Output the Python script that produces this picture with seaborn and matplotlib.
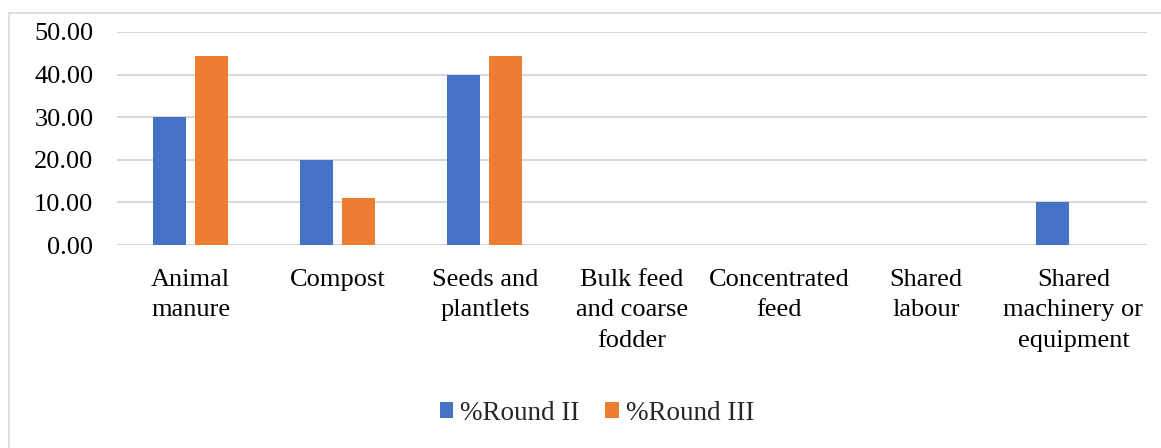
import pandas as pd
import matplotlib
matplotlib.use('Agg')
import matplotlib.pyplot as plt
import seaborn as sns
from matplotlib.patches import Rectangle

# Dados
categorias = ['Animal\nmanure', 'Compost', 'Seeds and\nplantlets', 'Bulk feed\nand coarse\nfodder',
              'Concentrated\nfeed', 'Shared\nlabour', 'Shared\nmachinery or\nequipment']
round_ii = [30.0, 20.0, 40.0, 0.0, 0.0, 0.0, 10.0]
round_iii = [44.44, 11.11, 44.44, 0.0, 0.0, 0.0, 0.0]
series = ['%Round II', '%Round III']
cores = ['#4472C4', '#ED7D31']

df = pd.DataFrame({
    'Categoria': categorias * 2,
    'Valor': round_ii + round_iii,
    'Serie': [series[0]] * len(categorias) + [series[1]] * len(categorias),
})

sns.set_style('white')
plt.rcParams['font.family'] = ['Liberation Serif', 'DejaVu Serif']

fig = plt.figure(figsize=(11.61, 4.48), dpi=100)
ax = fig.add_axes([117 / 1161, 1 - 245 / 448, (1147 - 117) / 1161, (245 - 32) / 448])

sns.barplot(data=df, x='Categoria', y='Valor', hue='Serie', palette=cores,
            width=0.57, gap=0.21, ax=ax, saturation=1, zorder=3, linewidth=0)

ax.set_ylim(0, 50)
ax.set_yticks(range(0, 51, 10))
ax.set_yticklabels([f'{v:.2f}' for v in range(0, 51, 10)])
ax.set_xlim(-0.5, len(categorias) - 0.5)
ax.grid(axis='y', color='#D9D9D9', linewidth=1.5, zorder=0)
ax.set_axisbelow(True)
for s in ax.spines.values():
    s.set_visible(False)
ax.tick_params(axis='both', length=0, labelsize=19, colors='black')
ax.tick_params(axis='x', pad=17)
ax.tick_params(axis='y', pad=17)
for lbl in ax.get_xticklabels():
    lbl.set_horizontalalignment('center')
    lbl.set_linespacing(1.5)
ax.set_xlabel('')
ax.set_ylabel('')

handles, labels = ax.get_legend_handles_labels()
ax.legend_.remove()
fig.legend(handles, labels, loc='center', bbox_to_anchor=(597 / 1161, 1 - 413 / 448), ncol=2,
           frameon=False, fontsize=19.5, handlelength=0.5, handleheight=0.5,
           handletextpad=0.25, columnspacing=0.95)

# moldura do gráfico
fig.patches.append(Rectangle((9 / 1161, -0.01), 1.0, 1 - 13 / 448 + 0.01, transform=fig.transFigure,
                             fill=False, edgecolor='#D9D9D9', linewidth=1.2))

fig.savefig('out.png', dpi=100)
